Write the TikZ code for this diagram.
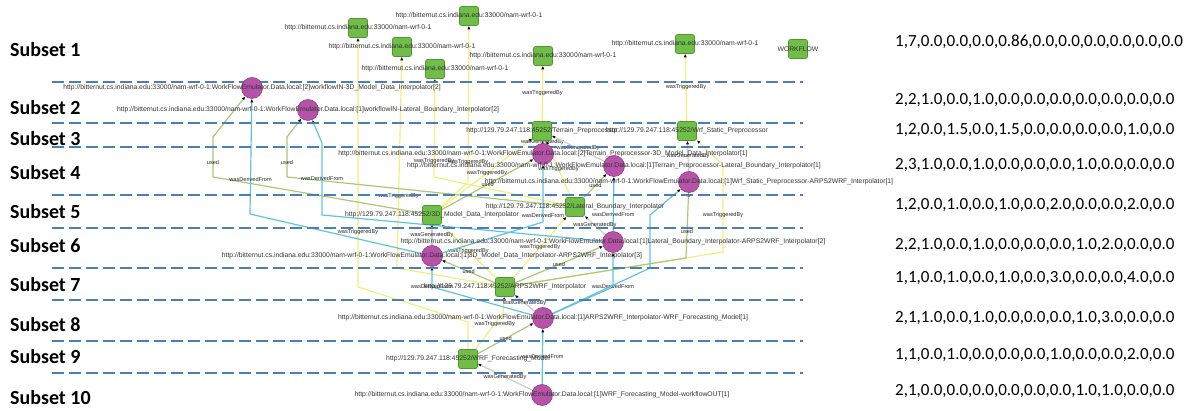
\documentclass[tikz,border=0pt]{standalone}
\usepackage{fontspec}
\setmainfont{Liberation Sans}
\newfontfamily\cali{Carlito}
\usetikzlibrary{arrows.meta,backgrounds}

\definecolor{sepblue}{RGB}{75,125,185}
\definecolor{procgreen}{RGB}{112,190,72}
\definecolor{procedge}{RGB}{80,150,50}
\definecolor{artpurple}{RGB}{182,82,168}
\definecolor{artedge}{RGB}{150,60,140}
\definecolor{trigyellow}{RGB}{240,240,125}
\definecolor{usedolive}{RGB}{170,200,120}
\definecolor{dervcyan}{RGB}{95,195,222}
\definecolor{genrgrey}{RGB}{205,205,205}

\newcommand{\wf}{http://bitternut.cs.indiana.edu:33000/nam-wrf-0-1}
\newcommand{\emu}{http://bitternut.cs.indiana.edu:33000/nam-wrf-0-1:WorkFlowEmulator.Data.local:}
\newcommand{\svc}{http://129.79.247.118:45252/}

\begin{document}
\begin{tikzpicture}[x=1pt, y=-1pt,
    proc/.style={rectangle, rounded corners=2pt, minimum size=19pt, inner sep=0pt,
                 fill=procgreen, draw=procedge, line width=.6pt},
    art/.style={circle, minimum size=21pt, inner sep=0pt,
                fill=artpurple, draw=artedge, line width=.6pt},
    nlab/.style={font=\fontsize{6.8}{7}\selectfont, text=black!80, inner sep=0pt},
    elab/.style={font=\fontsize{5.6}{6}\selectfont, text=black!85, inner sep=0pt},
    edge/.style={line width=1.2pt, -{Latex[length=3.5pt,width=3pt,color=black]}},
    trig/.style={edge, draw=trigyellow},
    used/.style={edge, draw=usedolive},
    derv/.style={edge, draw=dervcyan},
    genr/.style={edge, draw=genrgrey},
    sep/.style={sepblue, line width=1.5pt, dash pattern=on 12pt off 5pt},
    subset/.style={font=\cali\bfseries\fontsize{20}{22}\selectfont, anchor=west, inner sep=0pt},
    vals/.style={font=\cali\fontsize{17}{19}\selectfont, anchor=west, inner sep=0pt}]
  \useasboundingbox (0,0) rectangle (1203,411);

  \foreach \y in {82,123,147,195,228,268,300,341,373}
    \draw[sep] (52,\y) -- (803,\y);
  \foreach \n/\y in {1/50,2/108,3/139,4/173,5/212,6/246,7/285,8/325,9/357,10/398}
    \node[subset] (sub\n) at (10,\y) {Subset \n};
  \foreach \n/\y/\v in {1/42/{1,7,0.0,0.0,0.0,0.86,0.0,0.0,0.0,0.0,0.0,0.0},
                        2/100/{2,2,1.0,0.0,1.0,0.0,0.0,0.0,0.0,0.0,0.0,0.0},
                        3/130/{1,2,0.0,1.5,0.0,1.5,0.0,0.0,0.0,0.0,1.0,0.0},
                        4/165/{2,3,1.0,0.0,1.0,0.0,0.0,0.0,1.0,0.0,0.0,0.0},
                        5/205/{1,2,0.0,1.0,0.0,1.0,0.0,2.0,0.0,0.0,2.0,0.0},
                        6/245/{2,2,1.0,0.0,1.0,0.0,0.0,0.0,1.0,2.0,0.0,0.0},
                        7/278/{1,1,0.0,1.0,0.0,1.0,0.0,3.0,0.0,0.0,4.0,0.0},
                        8/318/{2,1,1.0,0.0,1.0,0.0,0.0,0.0,1.0,3.0,0.0,0.0},
                        9/355/{1,1,0.0,1.0,0.0,0.0,0.0,1.0,0.0,0.0,2.0,0.0},
                        10/391/{2,1,0.0,0.0,0.0,0.0,0.0,0.0,1.0,1.0,0.0,0.0}}
    \node[vals] (val\n) at (895,\y) {\v};

  \foreach \id/\x/\y in {S1a/358/28, S1b/469/16, S1c/402/47, S1d/435/69, S1e/543/56, S1f/685/44}
    \node[proc, label={[nlab]center:\wf}] (\id) at (\x,\y) {};
  \node[proc, label={[nlab]center:WORKFLOW}] (flow) at (798,49) {};

  \node[art, label={[nlab]center:{\emu[2]workflowIN-3D\_Model\_Data\_Interpolator[2]}}] (P2a) at (252,88) {};
  \node[art, label={[nlab]center:{\emu[1]workflowIN-Lateral\_Boundary\_Interpolator[2]}}] (P2b) at (308,110) {};
  \node[proc, label={[nlab]center:{\svc Terrain\_Preprocessor}}] (G3a) at (542,131) {};
  \node[proc, label={[nlab]center:{\svc Wrf\_Static\_Preprocessor}}] (G3b) at (687,131) {};
  \node[art, label={[nlab]center:{\emu[2]Terrain\_Preprocessor-3D\_Model\_Data\_Interpolator[1]}}] (P4a) at (543,154) {};
  \node[art, label={[nlab]center:{\emu[1]Terrain\_Preprocessor-Lateral\_Boundary\_Interpolator[1]}}] (P4b) at (614,166) {};
  \node[art, label={[nlab]center:{\emu[1]Wrf\_Static\_Preprocessor-ARPS2WRF\_Interpolator[1]}}] (P4c) at (689,182) {};
  \node[proc, label={[nlab]center:{\svc 3D\_Model\_Data\_Interpolator}}] (G5a) at (432,215) {};
  \node[proc, label={[nlab]center:{\svc Lateral\_Boundary\_Interpolator}}] (G5b) at (575,207) {};
  \node[art, label={[nlab]center:{\emu[1]Lateral\_Boundary\_Interpolator-ARPS2WRF\_Interpolator[2]}}] (P6a) at (613,242) {};
  \node[art, label={[nlab]center:{\emu[1]3D\_Model\_Data\_Interpolator-ARPS2WRF\_Interpolator[3]}}] (P6b) at (432,256) {};
  \node[proc, label={[nlab]center:{\svc ARPS2WRF\_Interpolator}}] (G7) at (505,287) {};
  \node[art, label={[nlab]center:{\emu[1]ARPS2WRF\_Interpolator-WRF\_Forecasting\_Model[1]}}] (P8) at (543,318) {};
  \node[proc, label={[nlab]center:{\svc WRF\_Forecasting\_Model}}] (G9) at (468,359) {};
  \node[art, label={[nlab]center:{\emu[1]WRF\_Forecasting\_Model-workflowOUT[1]}}] (P10) at (542,395) {};

  \begin{pgfonlayer}{background}
    \draw[trig] (G3a) -- (S1e) node[elab,midway] {wasTriggeredBy};
    \draw[trig] (G3b) -- (S1f) node[elab,midway] {wasTriggeredBy};
    \draw[trig] (G9) -- (468,322) -- (358,287) -- (S1a) node[elab,pos=.22] {wasTriggeredBy};
    \draw[trig] (G7) -- (397,268) -- (S1c) node[elab,pos=.34] {wasTriggeredBy};
    \draw[trig] (G5a) -- (468,182) -- (S1b) node[elab,pos=.13] {wasTriggeredBy};
    \draw[trig] (G5b) -- (434,177) -- (S1d) node[elab,pos=.16] {wasTriggeredBy};
    \draw[trig] (G5a) -- (G3a) node[elab,midway] {wasTriggeredBy};
    \draw[trig] (G5b) -- (G3a) node[elab,midway] {wasTriggeredBy};
    \draw[trig] (G7) -- (G5a) node[elab,midway] {wasTriggeredBy};
    \draw[trig] (G7) -- (G5b) node[elab,midway] {wasTriggeredBy};
    \draw[trig] (G7) -- (723,252) -- (723,165) node[elab,pos=.43] {wasTriggeredBy} -- (G3b);
    \draw[trig] (G9) -- (503,313) node[elab,pos=.7] {wasTriggeredBy} -- (G7);

    \draw[used] (G5a) -- (213,177) -- (213,137) node[elab,pos=.37] {used} -- (P2a);
    \draw[used] (G5b) -- (287,177) -- (287,137) node[elab,pos=.37] {used} -- (P2b);
    \draw[used] (G5a) -- (P4a) node[elab,midway] {used};
    \draw[used] (G5b) -- (P4b) node[elab,midway] {used};
    \draw[used] (G7) -- (P6a) node[elab,midway] {used};
    \draw[used] (G7) -- (P6b) node[elab,midway] {used};
    \draw[used] (G7) -- (686,258) -- (P4c) node[elab,pos=.4] {used};
    \draw[used] (G9) -- (P8) node[elab,midway] {used};

    \draw[derv] (P6b) -- (250,214) -- (P2a) node[elab,pos=.3] {wasDerivedFrom};
    \draw[derv] (P6a) -- (322,215) -- (322,143) node[elab,midway] {wasDerivedFrom} -- (P2b);
    \draw[derv] (P6b) -- (543,222) -- (P4a) node[elab,pos=.12] {wasDerivedFrom};
    \draw[derv] (P6a) -- (P4b) node[elab,pos=.3] {wasDerivedFrom};
    \draw[derv] (P8) -- (613,287) node[elab] {wasDerivedFrom} -- (P6a);
    \draw[derv] (P8) -- (432,287) node[elab] {wasDerivedFrom} -- (P6b);
    \draw[derv] (P8) -- (650,268) -- (650,215) -- (P4c);
    \draw[derv] (P10) -- (P8) node[elab,midway] {wasDerivedFrom};

    \draw[genr] (P4a) -- (G3a) node[elab,midway] {wasGeneratedBy};
    \draw[genr] (P4b) -- (G3a) node[elab,midway] {wasGeneratedBy};
    \draw[genr] (P4c) -- (G3b) node[elab,midway] {wasGeneratedBy};
    \draw[genr] (P6b) -- (G5a) node[elab,midway] {wasGeneratedBy};
    \draw[genr] (P6a) -- (G5b) node[elab,midway] {wasGeneratedBy};
    \draw[genr] (P8) -- (G7) node[elab,midway] {wasGeneratedBy};
    \draw[genr] (P10) -- (G9) node[elab,midway] {wasGeneratedBy};
  \end{pgfonlayer}
\end{tikzpicture}
\end{document}
